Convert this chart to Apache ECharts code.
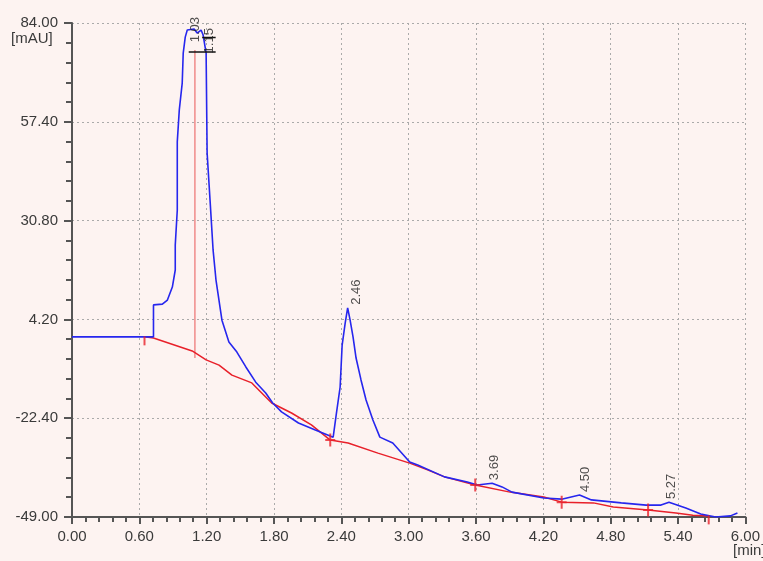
<!DOCTYPE html>
<html>
<head>
<meta charset="utf-8">
<script src="https://cdn.jsdelivr.net/npm/echarts@6/dist/echarts.min.js"></script>
<style>
html,body{margin:0;padding:0;background:#fdf3f1;}
#chart{width:763px;height:561px;}
</style>
</head>
<body>
<div id="chart"></div>
<script>
// ---- Data (time in min, signal in mAU) ----
var xTickLabels = ['0.00','0.60','1.20','1.80','2.40','3.00','3.60','4.20','4.80','5.40','6.00'];
var yTickLabels = ['-49.00','-22.40','4.20','30.80','57.40','84.00'];

var signalTime = [0,0.726,0.726,0.805,0.85,0.894,0.92,0.92,0.938,0.938,0.956,0.982,0.991,1.009,1.027,1.088,1.115,1.15,1.168,1.195,1.204,1.23,1.257,1.283,1.336,1.398,1.469,1.549,1.637,1.726,1.788,1.867,2.018,2.168,2.327,2.354,2.389,2.407,2.434,2.456,2.478,2.504,2.531,2.575,2.62,2.681,2.743,2.858,3.009,3.08,3.319,3.522,3.611,3.743,3.832,3.92,4.204,4.363,4.522,4.628,4.894,5.115,5.248,5.319,5.469,5.602,5.735,5.867,5.929];
var signalValue = [-0.5,-0.5,8.1,8.3,9.4,12.9,17.5,24.2,33.6,52.0,60.6,67.8,75.9,80.2,82.1,82.4,81.3,82.1,80.8,75.9,49.0,36.3,22.9,14.8,4.0,-1.9,-4.6,-8.6,-12.7,-15.6,-18.3,-20.7,-23.7,-25.6,-27.5,-21.5,-14.0,-2.7,3.2,7.3,4.0,-0.5,-6.2,-12.1,-17.5,-22.9,-27.5,-29.1,-34.2,-35.0,-38.2,-39.6,-40.4,-39.9,-40.9,-42.3,-43.9,-44.2,-43.1,-44.4,-45.2,-45.8,-45.8,-45.0,-46.6,-48.2,-49.0,-48.7,-47.9];

var baseTime = [0.646,0.726,1.071,1.195,1.31,1.425,1.602,1.779,1.956,2.133,2.301,2.46,2.726,3.009,3.168,3.319,3.593,3.903,4.204,4.363,4.646,4.823,5.133,5.381,5.531,5.673];
var baseValue = [-0.5,-0.8,-4.3,-6.7,-8.1,-10.8,-12.9,-18.3,-21.0,-24.2,-28.3,-29.1,-31.8,-34.5,-36.3,-38.2,-40.4,-42.3,-43.6,-45.0,-45.2,-46.3,-47.1,-47.9,-48.5,-48.7];

var dropTime = [1.095, 1.095];
var dropValue = [76.7, -6.2];

var crossTime = [2.301, 3.593, 4.363, 5.133];
var crossValue = [-28.3, -40.4, -45.0, -47.1];
var tickTime = [0.646, 5.673];
var tickValue = [-0.5, -48.7];

var markATime = [1.04, 1.28];
var markAValue = [76.2, 76.2];
var markBTime = [1.16, 1.28];
var markBValue = [80.1, 80.1];

var peakLabels = ['1.03','1.15','2.46','3.69','4.50','5.27'];
var peakTime = [1.03, 1.15, 2.46, 3.69, 4.50, 5.27];
var peakLabelValue = [78.0, 75.0, 7.3, -39.9, -43.1, -45.0];

// ---- Chart ----
var Y0 = -49; // axis offset so tick spacing starts at the axis minimum
function pts(t, v) { return t.map(function (x, i) { return [x, v[i] - Y0]; }); }

var chart = echarts.init(document.getElementById('chart'));
var axisCol = '#555';
var txtCol = '#3a3a3a';
var font = 'Liberation Sans, Arial, sans-serif';
var crossPath = 'path://M4,0L6,0L6,5.5L10,5.5L10,7.5L6,7.5L6,13L4,13L4,7.5L0,7.5L0,5.5L4,5.5Z';

chart.setOption({
  backgroundColor: '#fdf3f1',
  animation: false,
  grid: { left: 72, right: 13, top: 23, bottom: 44, containLabel: false },
  xAxis: {
    type: 'value', min: 0, max: 6, interval: 0.6,
    axisLine: { show: true, lineStyle: { color: axisCol, width: 2 } },
    axisTick: { show: true, length: 7, lineStyle: { color: axisCol, width: 2 } },
    minorTick: { show: true, splitNumber: 5, length: 5, lineStyle: { color: axisCol, width: 2 } },
    axisLabel: {
      margin: 12, color: txtCol, fontSize: 15, fontFamily: font,
      formatter: function (v) { return xTickLabels[Math.round(v / 0.6)]; }
    },
    splitLine: { show: true, lineStyle: { color: '#aaaaaa', width: 1, type: [2, 3] } }
  },
  yAxis: {
    type: 'value', min: 0, max: 133, interval: 26.6,
    axisLine: { show: true, lineStyle: { color: axisCol, width: 2 } },
    axisTick: { show: true, length: 8, lineStyle: { color: axisCol, width: 2 } },
    minorTick: { show: true, splitNumber: 5, length: 6, lineStyle: { color: axisCol, width: 2 } },
    axisLabel: {
      margin: 14, color: txtCol, fontSize: 15, fontFamily: font,
      formatter: function (v) { return yTickLabels[Math.round(v / 26.6)]; }
    },
    splitLine: { show: true, lineStyle: { color: '#aaaaaa', width: 1, type: [2, 3] } }
  },
  graphic: [
    { type: 'text', left: 11, top: 31, style: { text: '[mAU]', fill: txtCol, font: '15px ' + font } },
    { type: 'text', left: 733, top: 543, style: { text: '[min]', fill: txtCol, font: '15px ' + font } }
  ],
  series: [
    {
      type: 'line', data: pts(dropTime, dropValue), showSymbol: false, symbol: 'none',
      lineStyle: { color: '#f08a8a', width: 1.5 }, z: 2
    },
    {
      type: 'line', data: pts(baseTime, baseValue), showSymbol: false, symbol: 'none',
      lineStyle: { color: '#e8202a', width: 1.5 }, z: 3
    },
    {
      type: 'line', data: pts(signalTime, signalValue), showSymbol: false, symbol: 'none',
      lineStyle: { color: '#2626ee', width: 1.6 }, z: 4
    },
    {
      type: 'line', data: pts(markATime, markAValue), showSymbol: false, symbol: 'none',
      lineStyle: { color: '#111', width: 1.5 }, z: 5
    },
    {
      type: 'line', data: pts(markBTime, markBValue), showSymbol: false, symbol: 'none',
      lineStyle: { color: '#111', width: 1.5 }, z: 5
    },
    {
      type: 'scatter', data: pts(crossTime, crossValue), symbol: crossPath, symbolSize: [10, 13],
      itemStyle: { color: '#e8202a' }, z: 6
    },
    {
      type: 'scatter', data: pts(tickTime, tickValue), symbol: 'rect', symbolSize: [2, 9],
      symbolOffset: [0, 4], itemStyle: { color: '#e8202a' }, z: 6
    },
    {
      type: 'scatter', data: pts(peakTime, peakLabelValue), symbolSize: 0.1,
      itemStyle: { color: 'rgba(0,0,0,0)' },
      label: {
        show: true, position: [8, -3], rotate: 90, align: 'left', verticalAlign: 'middle',
        fontSize: 13, fontFamily: font, color: '#222',
        formatter: function (p) { return peakLabels[p.dataIndex]; }
      }, z: 7
    }
  ]
});
</script>
</body>
</html>
